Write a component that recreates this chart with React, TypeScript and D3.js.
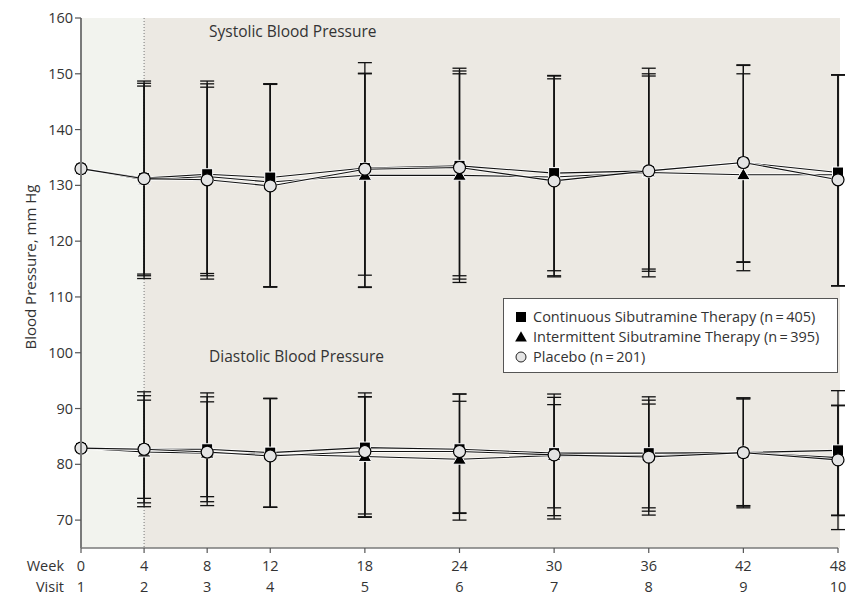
import React from "react";
import * as d3 from "d3";

const weeks = [0, 4, 8, 12, 18, 24, 30, 36, 42, 48];
const visits = [1, 2, 3, 4, 5, 6, 7, 8, 9, 10];
const yTicks = [70, 80, 90, 100, 110, 120, 130, 140, 150, 160];

const sysContMean = [133.0, 131.3, 132.0, 131.4, 133.1, 133.5, 132.2, 132.6, 134.1, 132.3];
const sysInterMean = [133.0, 131.0, 131.6, 130.6, 131.8, 131.8, 131.5, 132.3, 131.9, 131.9];
const sysPlacMean = [133.0, 131.2, 131.0, 129.9, 132.9, 133.2, 130.8, 132.6, 134.1, 131.0];
const sysContHi = [null, 148.7, 148.7, 148.2, 152.0, 151.0, 149.7, 150.0, 151.6, 149.8];
const sysContLo = [null, 114.1, 114.2, 111.8, 113.9, 113.2, 114.7, 114.6, 116.3, 112.0];
const sysInterHi = [null, 148.3, 148.2, 148.1, 150.0, 150.0, 149.1, 149.6, 150.0, 149.8];
const sysInterLo = [null, 113.3, 113.8, 111.8, 111.8, 112.6, 113.6, 115.0, 114.7, 112.0];
const sysPlacHi = [null, 147.8, 147.6, 148.2, 150.1, 150.5, 149.6, 151.0, 151.5, 149.8];
const sysPlacLo = [null, 113.8, 113.2, 111.8, 111.7, 113.8, 113.8, 113.6, 116.2, 112.0];

const diaContMean = [82.9, 82.7, 82.7, 82.1, 83.0, 82.7, 82.0, 82.0, 82.1, 82.5];
const diaInterMean = [82.9, 82.2, 82.0, 81.8, 81.4, 80.9, 81.6, 81.5, 82.1, 81.2];
const diaPlacMean = [82.9, 82.7, 82.2, 81.5, 82.3, 82.3, 81.7, 81.3, 82.1, 80.8];
const diaContHi = [null, 93.0, 92.8, 91.8, 92.8, 92.6, 92.6, 92.1, 91.9, 93.2];
const diaContLo = [null, 73.1, 73.3, 72.3, 71.1, 71.3, 72.2, 71.6, 72.6, 70.9];
const diaInterHi = [null, 92.3, 92.1, 91.8, 92.1, 91.3, 90.7, 90.8, 91.7, 90.6];
const diaInterLo = [null, 72.4, 72.6, 72.3, 70.5, 70.0, 70.2, 72.2, 72.2, 70.8];
const diaPlacHi = [null, 91.5, 91.2, 91.8, 92.1, 92.6, 92.0, 91.5, 91.9, 90.5];
const diaPlacLo = [null, 73.9, 74.2, 72.3, 70.6, 71.2, 70.8, 70.9, 72.5, 68.3];

const legendLabels = [
  "Continuous Sibutramine Therapy (n\u2009=\u2009405)",
  "Intermittent Sibutramine Therapy (n\u2009=\u2009395)",
  "Placebo (n\u2009=\u2009201)",
];

type Kind = "square" | "triangle" | "circle";

const W = 862;
const H = 613;
const M = { left: 81, right: 838, top: 18, bottom: 548 };
const FONT = "'Open Sans', 'Noto Sans', sans-serif";
const TXT = "#333";

const x = d3.scaleLinear().domain([0, 48]).range([M.left, M.right]);
const y = d3.scaleLinear().domain([65, 160]).range([M.bottom, M.top]);

function Marker({ kind, cx, cy }: { kind: Kind; cx: number; cy: number }) {
  if (kind === "square") {
    return <rect x={cx - 5.5} y={cy - 5.5} width={11} height={11} fill="#000" stroke="#fff" strokeWidth={1} />;
  }
  if (kind === "triangle") {
    const p = d3.symbol(d3.symbolTriangle, 80)();
    return <path d={p || ""} transform={`translate(${cx},${cy + 1})`} fill="#000" stroke="#fff" strokeWidth={1} />;
  }
  return <circle cx={cx} cy={cy} r={6} fill="#e4e4e4" stroke="#000" strokeWidth={1.2} />;
}

type Series = { kind: Kind; mean: number[]; hi: (number | null)[]; lo: (number | null)[] };

const panels: Series[][] = [
  [
    { kind: "triangle", mean: sysInterMean, hi: sysInterHi, lo: sysInterLo },
    { kind: "square", mean: sysContMean, hi: sysContHi, lo: sysContLo },
    { kind: "circle", mean: sysPlacMean, hi: sysPlacHi, lo: sysPlacLo },
  ],
  [
    { kind: "triangle", mean: diaInterMean, hi: diaInterHi, lo: diaInterLo },
    { kind: "square", mean: diaContMean, hi: diaContHi, lo: diaContLo },
    { kind: "circle", mean: diaPlacMean, hi: diaPlacHi, lo: diaPlacLo },
  ],
];

export default function App() {
  const line = d3
    .line<number>()
    .x((_, i) => x(weeks[i]))
    .y((d) => y(d));
  const cap = 7;
  const all = panels.flat();
  return (
    <svg width={W} height={H} style={{ position: "absolute", left: 0, top: 0 }} fontFamily={FONT}>
      <rect x={0} y={0} width={W} height={H} fill="#fff" />
      <rect x={x(0)} y={M.top} width={x(4) - x(0)} height={M.bottom - M.top} fill="#f2f3ee" />
      <rect x={x(4)} y={M.top} width={M.right + 2 - x(4)} height={M.bottom - M.top} fill="#ece9e3" />
      <line x1={x(4)} x2={x(4)} y1={M.top} y2={M.bottom} stroke="#777" strokeWidth={1} strokeDasharray="1,2" />

      {/* error bars */}
      {all.map((s, si) =>
        weeks.map((w, i) => {
          const hi = s.hi[i];
          const lo = s.lo[i];
          if (hi == null || lo == null) return null;
          const cx = x(w);
          return (
            <g key={`e${si}-${i}`} stroke="#111" strokeWidth={1.3}>
              <line x1={cx} x2={cx} y1={y(hi)} y2={y(lo)} />
              <line x1={cx - cap} x2={cx + cap} y1={y(hi)} y2={y(hi)} />
              <line x1={cx - cap} x2={cx + cap} y1={y(lo)} y2={y(lo)} />
            </g>
          );
        })
      )}

      {/* lines */}
      {all.map((s, si) => (
        <g key={`l${si}`} fill="none">
          <path d={line(s.mean) || ""} stroke="#fff" strokeWidth={2.8} opacity={0.8} />
          <path d={line(s.mean) || ""} stroke="#111" strokeWidth={1.1} />
        </g>
      ))}

      {/* markers */}
      {all.map((s, si) =>
        s.mean.map((v, i) => <Marker key={`m${si}-${i}`} kind={s.kind} cx={x(weeks[i])} cy={y(v)} />)
      )}

      {/* y axis */}
      <line x1={M.left} x2={M.left} y1={M.top} y2={M.bottom} stroke="#7a7a7a" strokeWidth={2} />
      {yTicks.map((t) => (
        <g key={`yt${t}`}>
          <line x1={M.left - 6} x2={M.left} y1={y(t)} y2={y(t)} stroke="#555" strokeWidth={1.2} />
          <text x={M.left - 8} y={y(t)} dy="0.35em" textAnchor="end" fontSize={14.5} fill={TXT}>
            {t}
          </text>
        </g>
      ))}
      <text
        transform={`translate(36,${(y(100) + y(130)) / 2 - 2}) rotate(-90)`}
        textAnchor="middle"
        fontSize={15}
        fill={TXT}
      >
        Blood Pressure, mm Hg
      </text>

      {/* x axis */}
      <line x1={M.left} x2={M.right} y1={M.bottom} y2={M.bottom} stroke="#7a7a7a" strokeWidth={1.5} />
      {weeks.map((w, i) => (
        <g key={`xt${w}`}>
          <line x1={x(w)} x2={x(w)} y1={M.bottom} y2={M.bottom + 5} stroke="#555" strokeWidth={1.2} />
          <text x={x(w)} y={571} textAnchor="middle" fontSize={14.5} fill={TXT}>
            {w}
          </text>
          <text x={x(w)} y={592} textAnchor="middle" fontSize={14.5} fill={TXT}>
            {visits[i]}
          </text>
        </g>
      ))}
      <text x={64} y={571} textAnchor="end" fontSize={14.5} fill={TXT}>
        Week
      </text>
      <text x={64} y={592} textAnchor="end" fontSize={14.5} fill={TXT}>
        Visit
      </text>

      {/* panel titles */}
      <text x={209} y={37} fontSize={15.5} fill={TXT}>
        Systolic Blood Pressure
      </text>
      <text x={209} y={362} fontSize={15.5} fill={TXT}>
        Diastolic Blood Pressure
      </text>

      {/* legend */}
      <rect x={503.5} y={298.5} width={334} height={74} fill="#fff" stroke="#555" strokeWidth={1} />
      {legendLabels.map((lab, i) => {
        const cy = 317 + i * 20;
        const kinds: Kind[] = ["square", "triangle", "circle"];
        const k = kinds[i];
        return (
          <g key={`lg${i}`}>
            {k === "square" && <rect x={516} y={cy - 5} width={10} height={10} fill="#000" />}
            {k === "triangle" && (
              <path d={d3.symbol(d3.symbolTriangle, 60)() || ""} transform={`translate(521,${cy + 1})`} fill="#000" />
            )}
            {k === "circle" && <circle cx={521} cy={cy} r={5} fill="#e4e4e4" stroke="#222" strokeWidth={1} />}
            <text x={533} y={cy} dy="0.35em" fontSize={14.5} fill={TXT}>
              {lab}
            </text>
          </g>
        );
      })}
    </svg>
  );
}
